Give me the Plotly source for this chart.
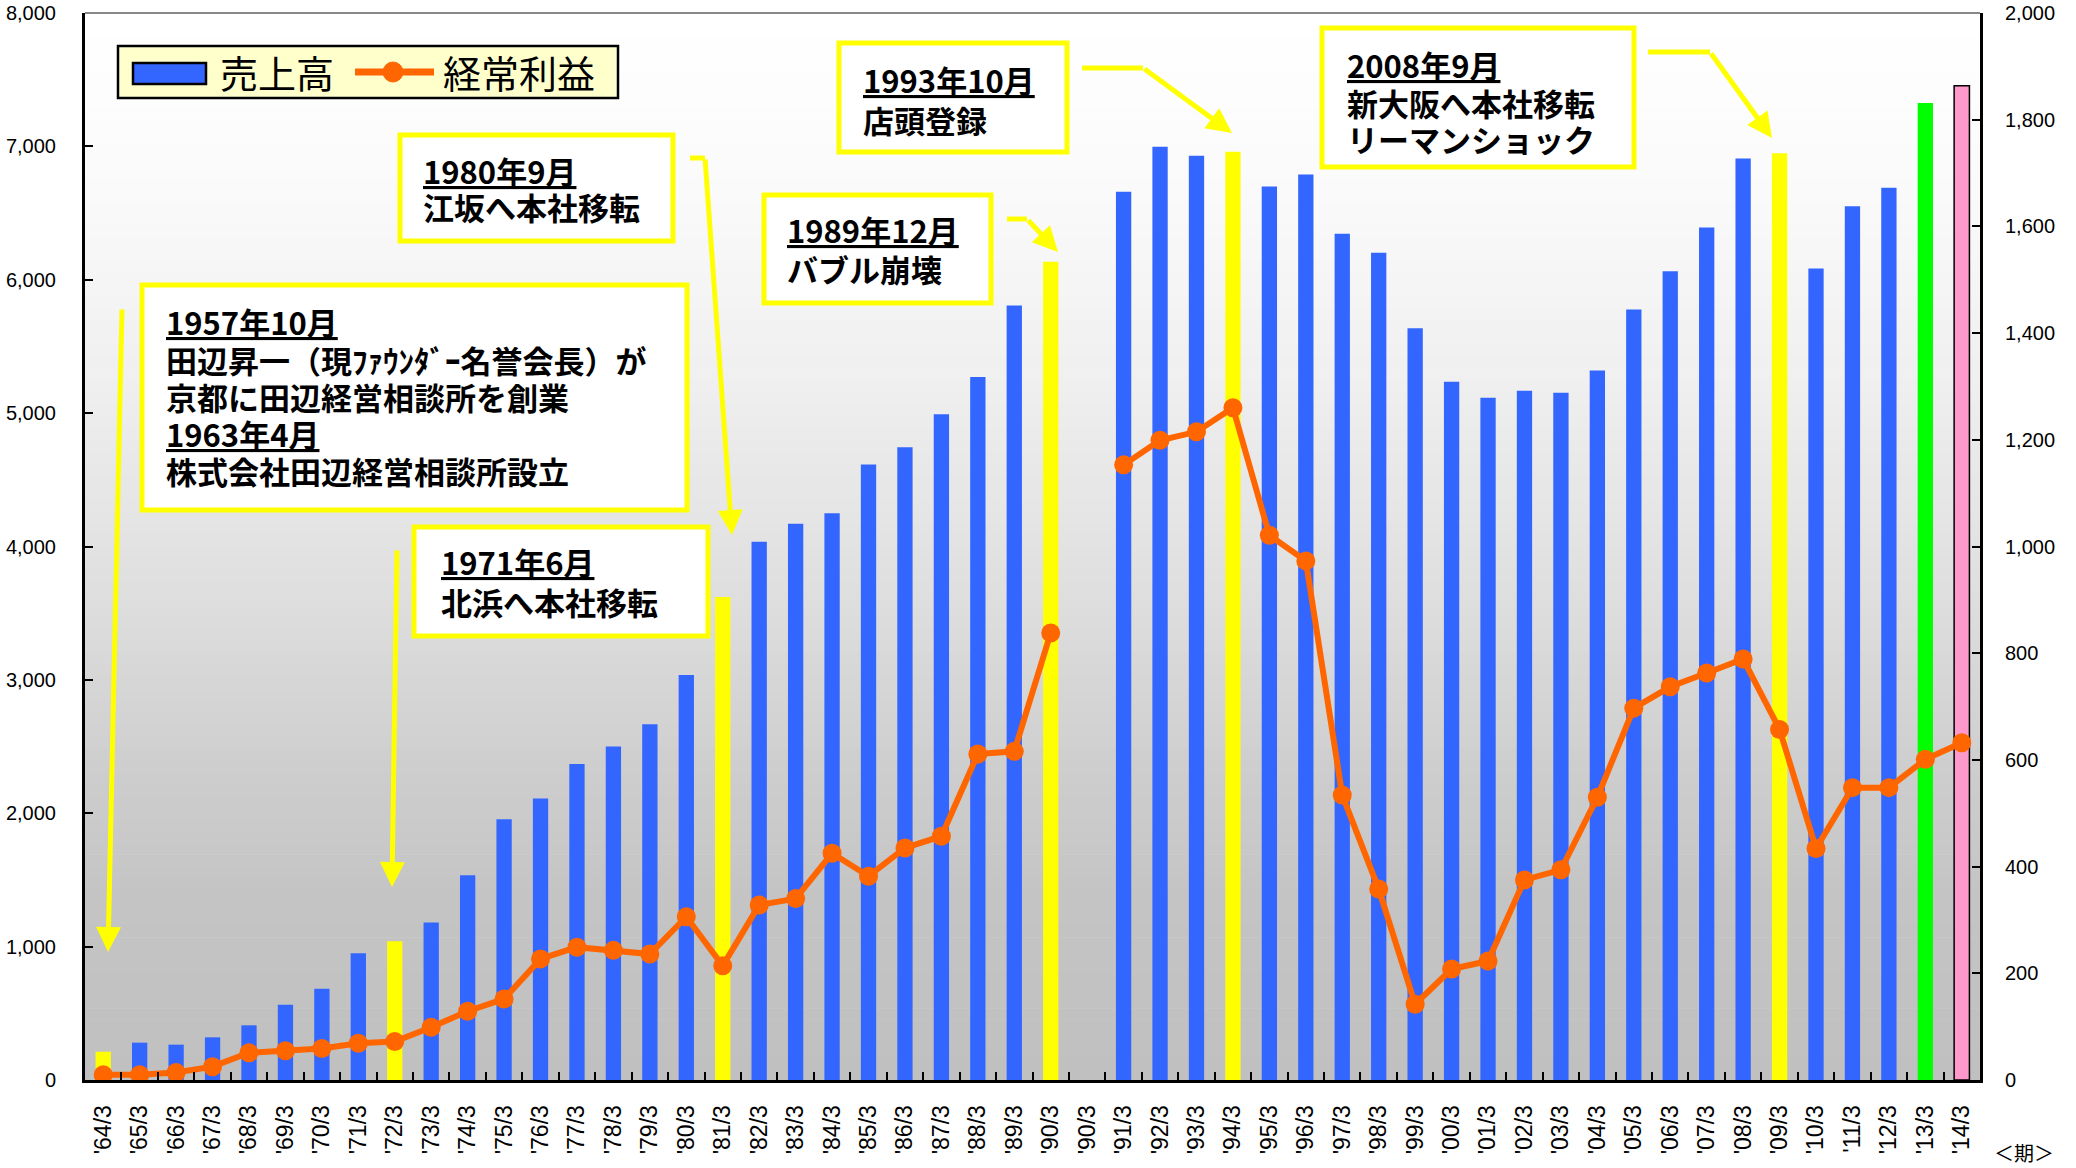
import plotly.graph_objects as go

# ---------------- data ----------------
periods = ["'64/3", "'65/3", "'66/3", "'67/3", "'68/3", "'69/3", "'70/3", "'71/3", "'72/3",
           "'73/3", "'74/3", "'75/3", "'76/3", "'77/3", "'78/3", "'79/3", "'80/3", "'81/3",
           "'82/3", "'83/3", "'84/3", "'85/3", "'86/3", "'87/3", "'88/3", "'89/3", "'90/3",
           "'90/3\u200b", "'91/3", "'92/3", "'93/3", "'94/3", "'95/3", "'96/3", "'97/3",
           "'98/3", "'99/3", "'00/3", "'01/3", "'02/3", "'03/3", "'04/3", "'05/3", "'06/3",
           "'07/3", "'08/3", "'09/3", "'10/3", "'11/3", "'12/3", "'13/3", "'14/3"]

sales = [212, 280, 265, 320, 410, 565, 685, 950, 1040,
         1180, 1535, 1955, 2110, 2370, 2500, 2668, 3036, 3622,
         4036, 4170, 4250, 4615, 4744, 4992, 5270, 5806, 6135,
         None, 6660, 6998, 6930, 6960, 6700, 6789, 6345,
         6203, 5637, 5235, 5116, 5167, 5152, 5320, 5777, 6064,
         6392, 6909, 6949, 6084, 6551, 6690, 7326, 7455]

ordinary_profit = [10, 10, 14, 25, 51, 55, 59, 69, 72,
                   99, 129, 152, 227, 249, 243, 236, 306, 214,
                   328, 340, 425, 382, 435, 457, 611, 616, 838,
                   None, 1153, 1199, 1215, 1260, 1021, 973, 534,
                   358, 142, 208, 223, 375, 394, 530, 697, 737,
                   763, 789, 657, 434, 548, 548, 601, 632]

left_ticks = [0, 1000, 2000, 3000, 4000, 5000, 6000, 7000, 8000]
right_ticks = [0, 200, 400, 600, 800, 1000, 1200, 1400, 1600, 1800, 2000]

# highlight colours for particular periods
special = {"'64/3": "#ffff00", "'72/3": "#ffff00", "'81/3": "#ffff00", "'90/3": "#ffff00",
           "'94/3": "#ffff00", "'09/3": "#ffff00", "'13/3": "#00ff00", "'14/3": "#ff99cc"}
bar_colors = [special.get(p, "#3366ff") for p in periods]
bar_lines = [1.5 if p == "'14/3" else 0 for p in periods]

# ---------------- geometry helpers (pixel -> paper) ----------------
W, H = 2076, 1168
L, R, T, B = 85, 1980, 13, 1080


def px(x):
    return (x - L) / (R - L)


def py(y):
    return (B - y) / (B - T)


fig = go.Figure()

fig.add_trace(go.Bar(
    x=periods, y=sales, name="売上高", width=0.42,
    marker=dict(color=bar_colors, line=dict(color="black", width=bar_lines)),
    yaxis="y",
))
fig.add_trace(go.Scatter(
    x=periods, y=ordinary_profit, name="経常利益", mode="lines+markers",
    line=dict(color="#ff6600", width=6),
    marker=dict(color="#ff6600", size=19),
    connectgaps=False, yaxis="y2",
))

shapes = []
# gradient background (bands)
stops = [(13, 255), (200, 250), (400, 238), (600, 222), (780, 205), (900, 196), (1080, 192)]


def gray_at(y):
    for (y0, g0), (y1, g1) in zip(stops[:-1], stops[1:]):
        if y0 <= y <= y1:
            return g0 + (g1 - g0) * (y - y0) / (y1 - y0)
    return stops[-1][1]


nb = 90
for i in range(nb):
    y0 = T + (B - T) * i / nb
    y1 = T + (B - T) * (i + 1) / nb
    g = int(round(gray_at((y0 + y1) / 2)))
    shapes.append(dict(type="rect", xref="paper", yref="paper", x0=0, x1=1,
                       y0=py(y1), y1=py(y0) + 0.0005, fillcolor=f"rgb({g},{g},{g})",
                       line=dict(width=0), layer="below"))

# top border
shapes.append(dict(type="line", xref="paper", yref="paper", x0=0, x1=1, y0=1, y1=1,
                   line=dict(color="#888888", width=2)))

# legend (drawn manually)
shapes.append(dict(type="rect", xref="paper", yref="paper", x0=px(118), x1=px(618),
                   y0=py(98), y1=py(46), fillcolor="#ffffcc", line=dict(color="black", width=2.5)))
shapes.append(dict(type="rect", xref="paper", yref="paper", x0=px(133), x1=px(206),
                   y0=py(84), y1=py(63), fillcolor="#3366ff", line=dict(color="black", width=2.5)))
shapes.append(dict(type="line", xref="paper", yref="paper", x0=px(355), x1=px(434),
                   y0=py(72), y1=py(72), line=dict(color="#ff6600", width=7)))
shapes.append(dict(type="circle", xref="paper", yref="paper", x0=px(383), x1=px(403),
                   y0=py(82), y1=py(62), fillcolor="#ff6600", line=dict(color="#ff6600", width=1)))

# annotation boxes
boxes = [
    (142, 687, 285, 510),
    (400, 673, 135, 241),
    (839, 1067, 43, 152),
    (764, 991, 195, 303),
    (414, 708, 527, 636),
    (1322, 1634, 28, 167),
]
for x0, x1, y0, y1 in boxes:
    shapes.append(dict(type="rect", xref="paper", yref="paper", x0=px(x0), x1=px(x1),
                       y0=py(y1), y1=py(y0), fillcolor="white",
                       line=dict(color="#ffff00", width=5)))

YEL = "#ffff00"
# arrows: polyline bodies (all but last segment) + final segment with head
arrows = [
    [(122, 308), (108, 952)],
    [(397, 549), (392, 887)],
    [(690, 158), (705, 158), (732, 535)],
    [(1082, 68), (1143, 68), (1232, 133)],
    [(1007, 219), (1027, 219), (1058, 252)],
    [(1648, 52), (1710, 52), (1772, 138)],
]
annotations = []
for pts in arrows:
    for (ax0, ay0), (ax1, ay1) in zip(pts[:-2], pts[1:-1]):
        shapes.append(dict(type="line", xref="paper", yref="paper", x0=px(ax0), x1=px(ax1),
                           y0=py(ay0), y1=py(ay1), line=dict(color=YEL, width=5)))
    (sx, sy), (tx, ty) = pts[-2], pts[-1]
    annotations.append(dict(xref="paper", yref="paper", x=px(tx), y=py(ty), text="",
                            showarrow=True, ax=sx - tx, ay=sy - ty, axref="pixel", ayref="pixel",
                            arrowcolor=YEL, arrowwidth=5, arrowhead=2, arrowsize=1.0,
                            standoff=0, startstandoff=0))

JP = "Noto Sans CJK JP"
box_lines = [
    (164, 321, "<u>1957年10月</u>"),
    (164, 359, "田辺昇一（現ﾌｧｳﾝﾀﾞｰ名誉会長）が"),
    (164, 397, "京都に田辺経営相談所を創業"),
    (164, 433, "<u>1963年4月</u>"),
    (164, 471, "株式会社田辺経営相談所設立"),
    (421, 170, "<u>1980年9月</u>"),
    (421, 207, "江坂へ本社移転"),
    (861, 80, "<u>1993年10月</u>"),
    (861, 119, "店頭登録"),
    (785, 230, "<u>1989年12月</u>"),
    (785, 268, "バブル崩壊"),
    (439, 561, "<u>1971年6月</u>"),
    (439, 601, "北浜へ本社移転"),
    (1345, 65, "<u>2008年9月</u>"),
    (1345, 102, "新大阪へ本社移転"),
    (1345, 139, "リーマンショック"),
]
for x, y, t in box_lines:
    annotations.append(dict(xref="paper", yref="paper", x=px(x), y=py(y), text="<b>" + t + "</b>",
                            showarrow=False, xanchor="left", yanchor="middle", align="left",
                            font=dict(family=JP, size=31, color="black")))

# legend texts
annotations.append(dict(xref="paper", yref="paper", x=px(218), y=py(72), text="売上高",
                        showarrow=False, xanchor="left", yanchor="middle",
                        font=dict(family=JP, size=38, color="black")))
annotations.append(dict(xref="paper", yref="paper", x=px(441), y=py(72), text="経常利益",
                        showarrow=False, xanchor="left", yanchor="middle",
                        font=dict(family=JP, size=38, color="black")))
# period unit
annotations.append(dict(xref="paper", yref="paper", x=px(2024), y=py(1152), text="＜期＞",
                        showarrow=False, xanchor="center", yanchor="middle",
                        font=dict(family=JP, size=20, color="black")))

AX_FONT = dict(family="Liberation Sans, Arial, sans-serif", size=20, color="black")

fig.update_layout(
    width=W, height=H, autosize=False,
    margin=dict(l=L, r=W - R, t=T, b=H - B, pad=0, autoexpand=False),
    paper_bgcolor="white", plot_bgcolor="white",
    showlegend=False,
    shapes=shapes, annotations=annotations,
    xaxis=dict(
        type="category", categoryorder="array", categoryarray=periods,
        range=[-0.5, len(periods) - 0.5], autorange=False, automargin=False,
        tickmode="linear", dtick=1, tickson="boundaries",
        ticks="inside", ticklen=8, tickwidth=2, tickcolor="black",
        showline=True, linecolor="black", linewidth=3,
        showgrid=False, zeroline=False,
        tickangle=-90, ticklabelstandoff=13,
        tickfont=dict(family="Liberation Sans, Arial, sans-serif", size=23, color="black"),
    ),
    yaxis=dict(
        range=[0, 8000], autorange=False, automargin=False, tickvals=left_ticks, tickformat=",",
        ticks="inside", ticklen=8, tickwidth=2, tickcolor="black",
        showline=True, linecolor="black", linewidth=3,
        showgrid=False, zeroline=False, tickfont=AX_FONT, ticklabelstandoff=22,
    ),
    yaxis2=dict(
        range=[0, 2000], autorange=False, automargin=False, tickvals=right_ticks, tickformat=",",
        overlaying="y", side="right",
        ticks="inside", ticklen=8, tickwidth=2, tickcolor="black",
        showline=True, linecolor="black", linewidth=3,
        showgrid=False, zeroline=False, tickfont=AX_FONT, ticklabelstandoff=18,
    ),
)

fig.write_html("out.html", config={"displayModeBar": False},
               post_script="document.body.style.margin='0';document.body.style.padding='0';"
                           "document.documentElement.style.overflow='hidden';")
